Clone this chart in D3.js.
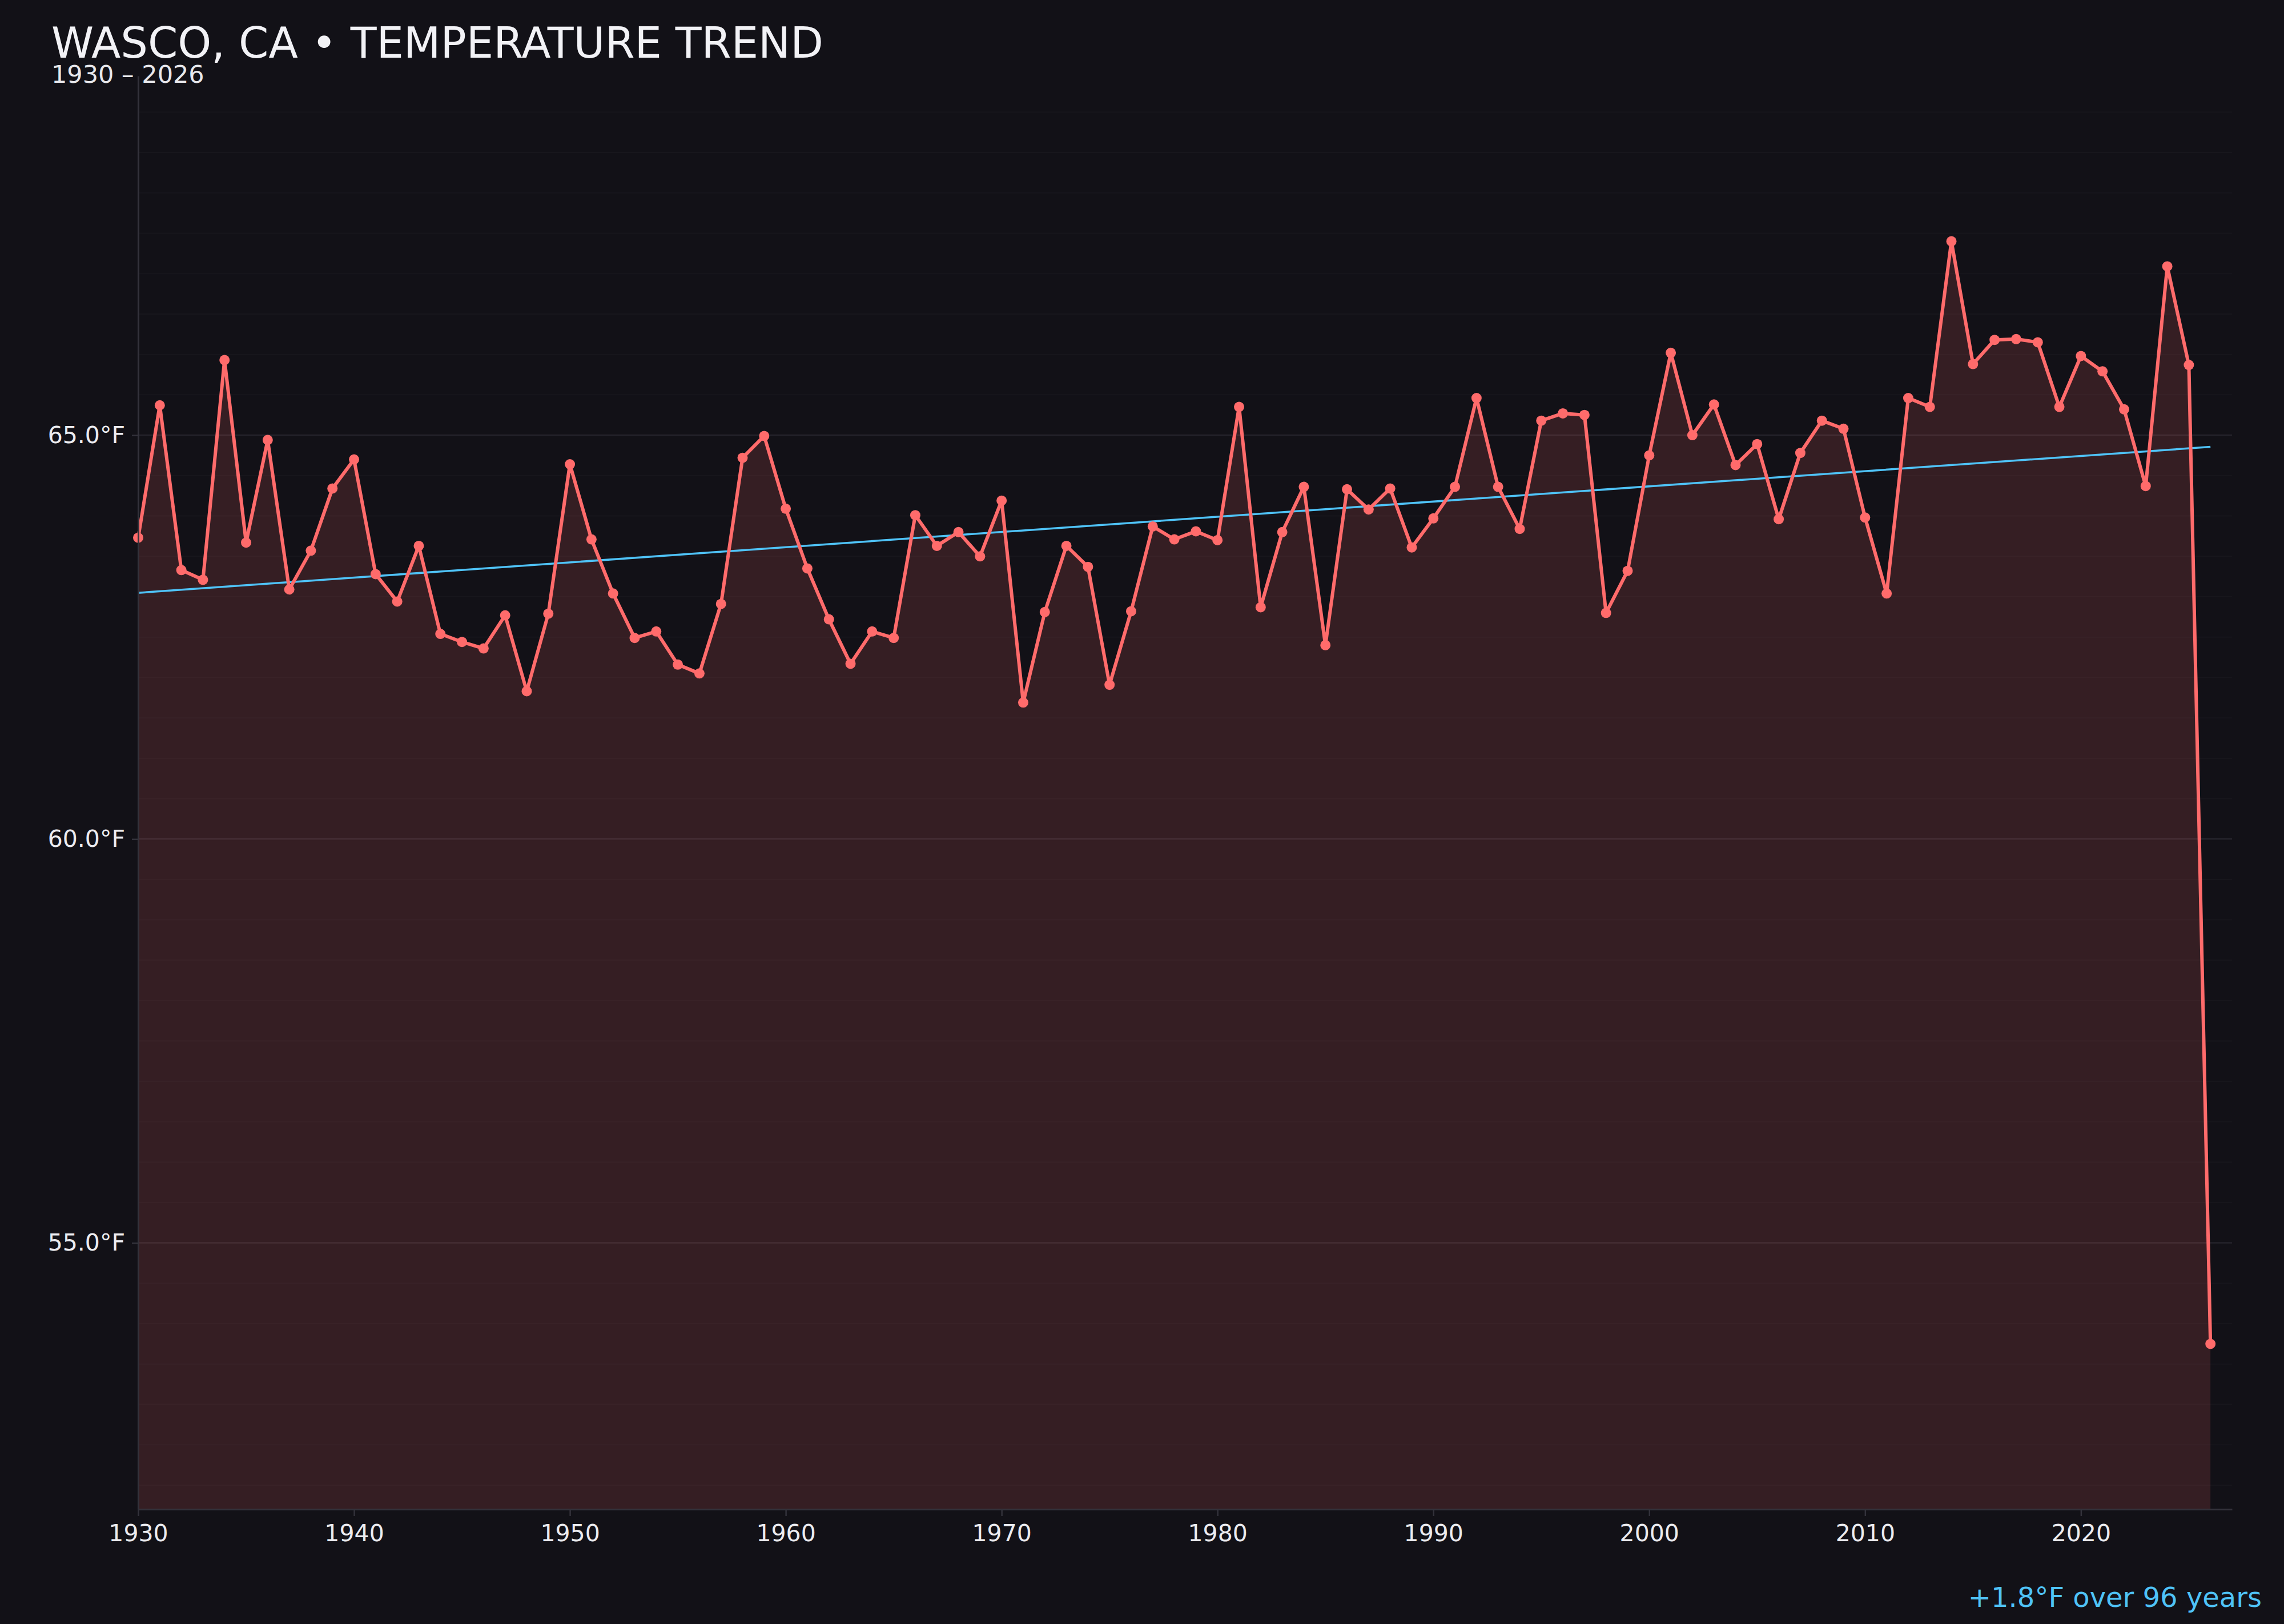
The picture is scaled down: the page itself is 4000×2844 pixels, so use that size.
<!DOCTYPE html>
<html>
<head>
<meta charset="utf-8">
<script src="https://cdn.jsdelivr.net/npm/d3@7"></script>
<style>
  html, body { margin: 0; padding: 0; background: #121117; }
  svg { display: block; font-family: "DejaVu Sans", sans-serif; }
</style>
</head>
<body>
<svg id="chart"></svg>
<script>
// Annual mean temperature, Wasco CA
const startYear = 1930
const temps = [
    63.73, 65.37, 63.33, 63.21, 65.93, 63.67, 64.94, 63.09, 63.57, 64.34,
    64.70, 63.28, 62.94, 63.63, 62.54, 62.44, 62.36, 62.77, 61.83, 62.79,
    64.64, 63.71, 63.04, 62.49, 62.57, 62.16, 62.05, 62.91, 64.72, 64.99,
    64.09, 63.35, 62.72, 62.17, 62.57, 62.49, 64.01, 63.63, 63.80, 63.50,
    64.19, 61.69, 62.81, 63.63, 63.37, 61.91, 62.82, 63.87, 63.71, 63.81,
    63.70, 65.35, 62.87, 63.80, 64.36, 62.40, 64.33, 64.08, 64.34, 63.61,
    63.97, 64.36, 65.46, 64.36, 63.84, 65.18, 65.27, 65.25, 62.80, 63.32,
    64.75, 66.02, 65.00, 65.38, 64.63, 64.89, 63.96, 64.78, 65.18, 65.08,
    63.98, 63.04, 65.46, 65.35, 67.40, 65.88, 66.18, 66.19, 66.15, 65.35,
    65.98, 65.79, 65.32, 64.37, 67.09, 65.87, 53.75
]
const years = temps.map((t, i) => startYear + i)
const xTicks = [1930, 1940, 1950, 1960, 1970, 1980, 1990, 2000, 2010, 2020]
const yTicks = [55, 60, 65]
const titleText = "WASCO, CA • TEMPERATURE TREND"
const subtitleText = "1930 – 2026"
const trendText = "+1.8°F over 96 years"

const width = 4000
const height = 2844
const margin = { top: 133, right: 91, bottom: 201, left: 242 }

const lineColor = "#ff6b6b"
const trendColor = "#4fc3f7"

const svg = d3.select("#chart")
    .attr("width", width)
    .attr("height", height)

svg.append("rect")
    .attr("width", width)
    .attr("height", height)
    .attr("fill", "#121117")

// scales
const xScale = d3.scaleLinear()
    .domain([startYear, years[years.length - 1] + 1])
    .range([margin.left, width - margin.right])

const ext = d3.extent(temps)
const pad = (ext[1] - ext[0]) * 0.15
const yScale = d3.scaleLinear()
    .domain([ext[0] - pad, ext[1] + pad])
    .range([height - margin.bottom, margin.top])

// grid every half degree
const [lo, hi] = yScale.domain()
const gridVals = d3.range(Math.ceil(lo * 2) / 2, hi, 0.5)
svg.append("g")
    .selectAll("line")
    .data(gridVals)
    .join("line")
        .attr("x1", margin.left)
        .attr("x2", width - margin.right)
        .attr("y1", d => yScale(d))
        .attr("y2", d => yScale(d))
        .attr("stroke", d => d % 5 === 0 ? "#24232b" : "#17161c")
        .attr("stroke-width", d => d % 5 === 0 ? 2.5 : 2)

// shaded area under the line
const area = d3.area()
    .x((d, i) => xScale(years[i]))
    .y0(height - margin.bottom)
    .y1(d => yScale(d))

svg.append("path")
    .datum(temps)
    .attr("d", area)
    .attr("fill", lineColor)
    .attr("fill-opacity", 0.15)

// least squares trend
const xMean = d3.mean(years)
const yMean = d3.mean(temps)
const slope = d3.sum(years, (x, i) => (x - xMean) * (temps[i] - yMean)) /
    d3.sum(years, x => (x - xMean) ** 2)
const trendAt = x => yMean + slope * (x - xMean)
const trendYears = [years[0], years[years.length - 1]]

svg.append("line")
    .attr("x1", xScale(trendYears[0]))
    .attr("x2", xScale(trendYears[1]))
    .attr("y1", yScale(trendAt(trendYears[0])))
    .attr("y2", yScale(trendAt(trendYears[1])))
    .attr("stroke", trendColor)
    .attr("stroke-width", 3.5)

// temperature line + dots
const line = d3.line()
    .x((d, i) => xScale(years[i]))
    .y(d => yScale(d))

svg.append("path")
    .datum(temps)
    .attr("d", line)
    .attr("fill", "none")
    .attr("stroke", lineColor)
    .attr("stroke-width", 6)
    .attr("stroke-linejoin", "round")

svg.append("g")
    .selectAll("circle")
    .data(temps)
    .join("circle")
        .attr("cx", (d, i) => xScale(years[i]))
        .attr("cy", d => yScale(d))
        .attr("r", 9)
        .attr("fill", lineColor)

// axes
const xAxis = d3.axisBottom(xScale)
    .tickValues(xTicks)
    .tickFormat(d3.format("d"))
    .tickSize(12)
    .tickSizeOuter(0)
    .tickPadding(15)
const yAxis = d3.axisLeft(yScale)
    .tickValues(yTicks)
    .tickFormat(d => d.toFixed(1) + "°F")
    .tickSize(11)
    .tickSizeOuter(0)
    .tickPadding(12)

const gx = svg.append("g")
    .attr("transform", `translate(0, ${height - margin.bottom})`)
    .call(xAxis)
const gy = svg.append("g")
    .attr("transform", `translate(${margin.left}, 0)`)
    .call(yAxis)

for (const g of [gx, gy]) {
    g.select(".domain").attr("stroke", "#33323b").attr("stroke-width", 3)
    g.selectAll(".tick line").attr("stroke", "#33323b").attr("stroke-width", 2.5)
    g.selectAll(".tick text")
        .attr("fill", "#ececf0")
        .style("font-size", "41px")
        .style("font-family", "DejaVu Sans")
}

// titles
svg.append("text")
    .attr("x", 90)
    .attr("y", 101)
    .attr("fill", "#f2f2f6")
    .style("font-size", "75px")
    .text(titleText)

svg.append("text")
    .attr("x", 90)
    .attr("y", 145)
    .attr("fill", "#e8e8ec")
    .style("font-size", "43px")
    .text(subtitleText)

svg.append("text")
    .attr("x", 3961)
    .attr("y", 2814)
    .attr("text-anchor", "end")
    .attr("fill", trendColor)
    .style("font-size", "48px")
    .text(trendText)
</script>
</body>
</html>
